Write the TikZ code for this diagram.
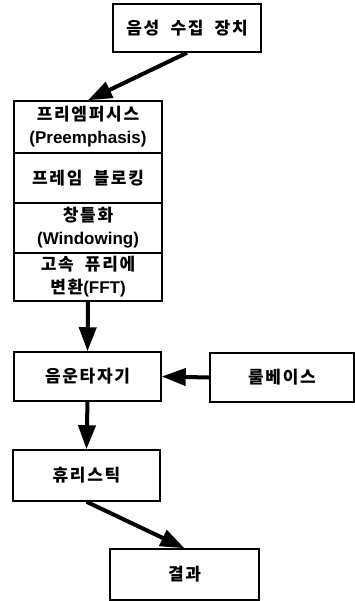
\documentclass[tikz,border=0pt]{standalone}
\usepackage{fontspec}
\setmainfont{Liberation Sans}
\newfontfamily\kr{Noto Sans CJK KR Bold}[WordSpace=2,LetterSpace=10]
\usetikzlibrary{arrows.meta}
\newcommand\K[1]{{\kr #1}}
\begin{document}
\begin{tikzpicture}[x=1pt,y=-1pt,
  box/.style={draw, line width=1.5pt, inner sep=0pt, align=center,
    font=\fontsize{17}{23}\selectfont\bfseries},
  arr/.style={line width=4pt, -{Triangle[length=24pt,width=17pt]}}]
\useasboundingbox (0,0) rectangle (355,601);
\node[box, minimum width=148pt, minimum height=48pt] (top) at (187,28) {\K{음성 수집 장치}};
\node[box, minimum width=148pt, minimum height=52pt] (s1) at (88,127) {\K{프리엠퍼시스}\\(Preemphasis)};
\node[box, minimum width=148pt, minimum height=50pt] (s2) at (88,178) {\K{프레임 블로킹}};
\node[box, minimum width=148pt, minimum height=50pt] (s3) at (88,228) {\K{창틀화}\\(Windowing)};
\node[box, minimum width=148pt, minimum height=48pt] (s4) at (88,277) {\K{고속 퓨리에}\\\K{변환}(FFT)};
\node[box, minimum width=147pt, minimum height=49pt] (ph) at (87.5,376.5) {\K{음운타자기}};
\node[box, minimum width=144pt, minimum height=49pt] (rule) at (282,377.5) {\K{룰베이스}};
\node[box, minimum width=147pt, minimum height=51pt] (heur) at (86.5,475.5) {\K{휴리스틱}};
\node[box, minimum width=149pt, minimum height=51pt] (res) at (184.5,574.5) {\K{결과}};
\draw[arr] (top.south) -- (s1.north);
\draw[arr] (s4.south) -- (ph.north);
\draw[arr] (rule.west) -- (ph.east);
\draw[arr] (ph.south) -- (heur.north);
\draw[arr] (heur.south) -- (res.north);
\end{tikzpicture}
\end{document}
